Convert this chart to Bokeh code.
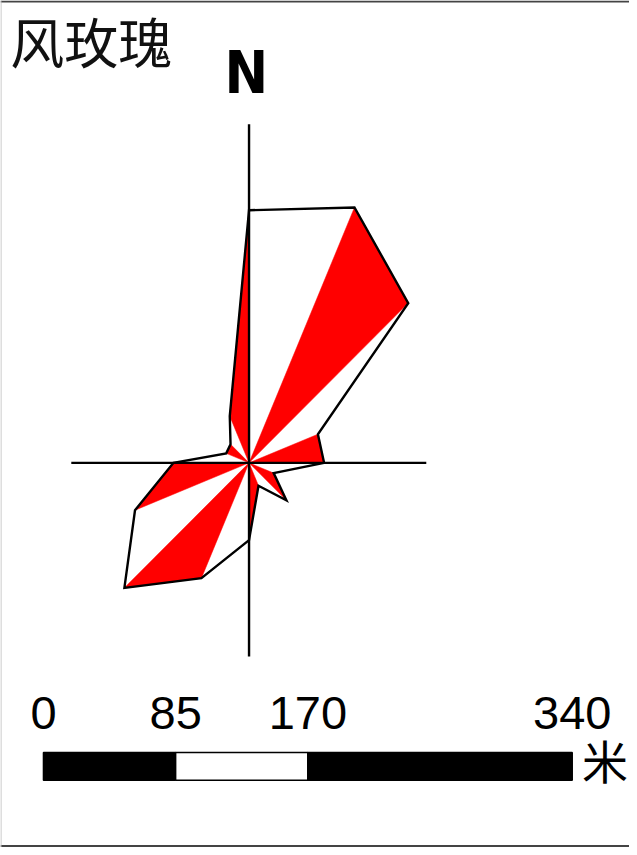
import numpy as np
from bokeh.plotting import figure
from bokeh.models import Range1d
from bokeh.core.properties import value
from bokeh.embed import file_html
from bokeh.resources import INLINE

# ---- data ----
directions = ["N", "NNE", "NE", "ENE", "E", "ESE", "SE", "SSE",
              "S", "SSW", "SW", "WSW", "W", "WNW", "NW", "NNW"]
radius = [255, 279, 228, 75.5, 76, 27, 53.5, 25,
          78, 126, 178.5, 125, 76.5, 25, 26.5, 51]
scale_ticks = [0, 85, 170, 340]
scale_labels = ["0", "85", "170", "340"]
scale_unit = "米"
title_text = "风玫瑰"
north_text = "N"

# ---- layout (reference-picture pixel units) ----
W, H = 629, 847
RW, RH = 637, 855
CX, CY = 251.7, 466.7          # rose centre

p = figure(width=W, height=H, output_backend="svg", toolbar_location=None,
           x_range=Range1d(0 - CX, RW - CX), y_range=Range1d(CY - RH, CY - 0),
           min_border=0, background_fill_color="white", border_fill_color="white")
p.axis.visible = False
p.grid.visible = False
p.outline_line_color = None

# ---- wind rose ----
r = np.array(radius, dtype=float)
n = len(directions)
theta = np.deg2rad(np.arange(n) * 360.0 / n)
vx = r * np.sin(theta)
vy = r * np.cos(theta)

red_xs, red_ys, white_xs, white_ys = [], [], [], []
for i in range(n):
    j = (i + 1) % n
    tx = [0.0, vx[i], vx[j]]
    ty = [0.0, vy[i], vy[j]]
    if i % 2 == 1:
        red_xs.append(tx); red_ys.append(ty)
    else:
        white_xs.append(tx); white_ys.append(ty)

p.patches(white_xs, white_ys, fill_color="white", line_color=None)
p.patches(red_xs, red_ys, fill_color="#FF0000", line_color="#FF0000", line_width=0.5)
p.patch(list(vx) + [vx[0]], list(vy) + [vy[0]], fill_color=None,
        line_color="black", line_width=2.4, line_join="miter")

# cross lines
p.segment(x0=[-180, 0], y0=[0, -195.5], x1=[179.5, 0], y1=[0, 341.7],
          line_color="black", line_width=2.4)

# ---- scale bar ----
bar_x0 = 43.5 - CX
k = (579 - 43.5) / scale_ticks[-1]
bar_top, bar_bot = CY - 759, CY - 787
lefts = [bar_x0 + scale_ticks[i] * k for i in range(3)]
rights = [bar_x0 + scale_ticks[i + 1] * k for i in range(3)]
p.quad(left=lefts, right=rights, top=bar_top, bottom=bar_bot,
       fill_color=["black", "white", "black"], line_color="black", line_width=1.5)

p.text(x=[bar_x0 + t * k for t in scale_ticks], y=[CY - 719] * 4, text=scale_labels,
       text_font=value("Liberation Sans"), text_font_size="47px",
       text_align="center", text_baseline="middle", text_color="black")

p.text(x=[589 - CX], y=[CY - 766], text=[scale_unit],
       text_font=value("Noto Sans CJK SC"), text_font_size="46px",
       text_align="left", text_baseline="middle", text_color="black")

# ---- title & north ----
p.text(x=[10 - CX], y=[CY - 40.5], text=[title_text],
       text_font=value("Noto Sans CJK SC"), text_font_size="54px",
       text_align="left", text_baseline="middle", text_color="#111111")
p.text(x=[249 - CX], y=[CY - 73], text=[north_text],
       text_font=value("DejaVu Sans Condensed, DejaVu Sans"), text_font_size="58px",
       text_font_style="bold", text_align="center", text_baseline="middle",
       text_color="black")

# ---- frame lines ----
p.segment(x0=[0 - CX, 0 - CX], y0=[CY - 1, CY - 853.5], x1=[RW - CX, RW - CX],
          y1=[CY - 1, CY - 853.5], line_color="#444444", line_width=2)
p.segment(x0=[0.5 - CX], y0=[CY - 0], x1=[0.5 - CX], y1=[CY - RH],
          line_color="#bbbbbb", line_width=1)

open("out.html", "w").write(file_html(p, INLINE))
